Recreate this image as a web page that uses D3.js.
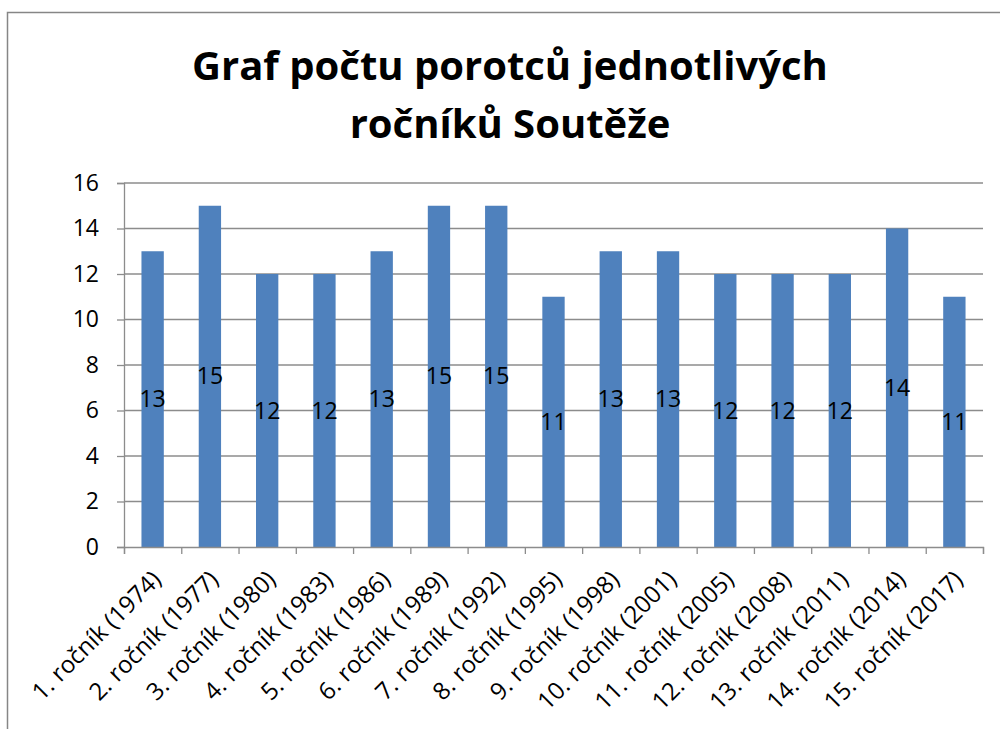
<!DOCTYPE html>
<html>
<head>
<meta charset="utf-8">
<script src="https://cdn.jsdelivr.net/npm/d3@7"></script>
<style>
body { margin: 0; background: #fff; }
text { font-family: "Open Sans", sans-serif; }
</style>
</head>
<body>
<script>
var categories = ["1. ročník (1974)", "2. ročník (1977)", "3. ročník (1980)", "4. ročník (1983)", "5. ročník (1986)",
	"6. ročník (1989)", "7. ročník (1992)", "8. ročník (1995)", "9. ročník (1998)", "10. ročník (2001)",
	"11. ročník (2005)", "12. ročník (2008)", "13. ročník (2011)", "14. ročník (2014)", "15. ročník (2017)"];
var porotci = [13, 15, 12, 12, 13, 15, 15, 11, 13, 13, 12, 12, 12, 14, 11];
var yTicks = [0, 2, 4, 6, 8, 10, 12, 14, 16];
var titleLines = ["Graf počtu porotců jednotlivých", "ročníků Soutěže"];

var width = 1000;
var height = 729;
var margin = {top: 183, right: 17, bottom: 182, left: 124};
var w = width - margin.left - margin.right;
var h = height - margin.top - margin.bottom;

var svg = d3.select("body")
	.append("svg")
		.attr("width", width)
		.attr("height", height);

// chart frame
svg.append("path")
	.attr("d", "M7.5,729 V12.5 H1000")
	.attr("fill", "none")
	.attr("stroke", "#868686")
	.attr("stroke-width", 1.5);

svg.selectAll("text.title")
	.data(titleLines)
	.enter()
	.append("text")
	.attr("class", "title")
	.attr("x", 510)
	.attr("y", (d, i) => 80 + i * 58)
	.attr("text-anchor", "middle")
	.attr("font-size", "40px")
	.attr("font-weight", "bold")
	.text(d => d);

var g = svg.append("g")
	.attr("transform", "translate(" + margin.left + "," + margin.top + ")");

var x = d3.scaleBand()
	.domain(categories)
	.range([0, w])
	.paddingInner(0.61)
	.paddingOuter(0.305);

var y = d3.scaleLinear()
	.domain([0, 16])
	.range([h, 0]);

// gridlines
g.selectAll("line.grid")
	.data(yTicks.slice(1))
	.enter()
	.append("line")
	.attr("class", "grid")
	.attr("x1", 0)
	.attr("x2", w)
	.attr("y1", d => y(d))
	.attr("y2", d => y(d))
	.attr("stroke", "#8c8c8c")
	.attr("stroke-width", 1.3);

g.selectAll("rect")
	.data(porotci)
	.enter()
	.append("rect")
	.attr("x", (d, i) => x(categories[i]))
	.attr("y", d => y(d))
	.attr("width", x.bandwidth())
	.attr("height", d => h - y(d))
	.attr("fill", "#4F81BD");

g.selectAll("text.val")
	.data(porotci)
	.enter()
	.append("text")
	.attr("class", "val")
	.attr("x", (d, i) => x(categories[i]) + x.bandwidth() / 2)
	.attr("y", d => (y(d) + h) / 2)
	.attr("dy", "0.35em")
	.attr("text-anchor", "middle")
	.attr("font-size", "23px")
	.attr("fill", "#000")
	.text(d => d);

// y axis
var leftAxis = d3.axisLeft(y).tickValues(yTicks).tickSize(7).tickPadding(18);
var ya = g.append("g")
	.attr("class", "left axis")
	.call(leftAxis);
ya.select(".domain").attr("stroke", "#8c8c8c").attr("stroke-width", 1.3);
ya.selectAll(".tick line").attr("stroke", "#8c8c8c").attr("stroke-width", 1.3);
ya.selectAll(".tick text")
	.attr("font-size", "23px")
	.attr("fill", "#000")
	.style("font-family", "'Open Sans', sans-serif");

// x axis with ticks between categories
var xb = d3.scaleLinear().domain([0, categories.length]).range([0, w]);
var bottomAxis = d3.axisBottom(xb).tickValues(d3.range(categories.length + 1)).tickSize(7).tickFormat("");
var xa = g.append("g")
	.attr("class", "bottom axis")
	.attr("transform", "translate(0," + h + ")")
	.call(bottomAxis);
xa.select(".domain").attr("stroke", "#8c8c8c").attr("stroke-width", 1.3);
xa.selectAll(".tick line").attr("stroke", "#8c8c8c").attr("stroke-width", 1.3);

g.selectAll("text.cat")
	.data(categories)
	.enter()
	.append("text")
	.attr("class", "cat")
	.attr("transform", d => "translate(" + (x(d) + x.bandwidth() / 2 + 4) + "," + (h + 28) + ") rotate(-45)")
	.attr("text-anchor", "end")
	.attr("dy", "0.35em")
	.attr("font-size", "24px")
	.attr("fill", "#000")
	.text(d => d);
</script>
</body>
</html>
